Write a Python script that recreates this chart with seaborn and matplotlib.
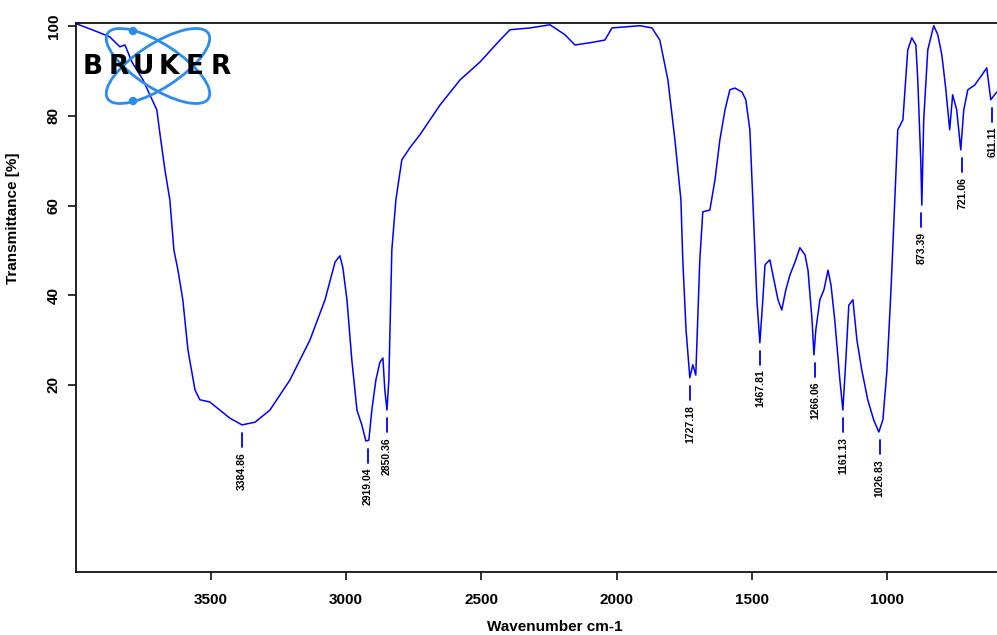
import numpy as np
import pandas as pd
import matplotlib
matplotlib.use("Agg")
import matplotlib.pyplot as plt
from matplotlib.patches import Ellipse, Circle
import seaborn as sns

# ---------------- data ----------------
wavenumber = [3996, 3910, 3874, 3837, 3818, 3792, 3751, 3726, 3700, 3689, 3670, 3652,
              3637, 3622, 3604, 3585, 3559, 3541, 3504, 3467, 3430, 3385, 3337, 3282,
              3208, 3134, 3078, 3041, 3023, 3012, 2997, 2979, 2960, 2942, 2927, 2916,
              2905, 2890, 2875, 2864, 2857, 2849, 2842, 2831, 2816, 2794, 2764, 2727,
              2690, 2653, 2579, 2505, 2431, 2394, 2320, 2246, 2191, 2154, 2098, 2043,
              2017, 1914, 1869, 1840, 1810, 1784, 1773, 1762, 1755, 1743, 1729, 1718,
              1707, 1692, 1681, 1655, 1636, 1618, 1599, 1581, 1562, 1536, 1522, 1507,
              1496, 1481, 1470, 1459, 1451, 1433, 1418, 1403, 1389, 1374, 1359, 1340,
              1322, 1303, 1292, 1277, 1270, 1263, 1248, 1233, 1218, 1207, 1193, 1174,
              1163, 1152, 1141, 1126, 1111, 1093, 1071, 1049, 1030, 1015, 1000, 985,
              971, 960, 941, 923, 908, 893, 886, 875, 871, 864, 849, 827, 812, 797,
              782, 768, 757, 742, 727, 716, 701, 675, 649, 631, 616, 594]
transmittance = [100.5, 98.5, 97.6, 95.4, 95.8, 92.0, 88.0, 84.7, 81.3, 76.2, 67.9, 61.3,
                 50.1, 45.6, 39.0, 27.8, 18.9, 16.7, 16.2, 14.4, 12.6, 11.1, 11.7, 14.4,
                 21.1, 30.0, 39.0, 47.4, 48.8, 46.1, 39.0, 25.6, 14.4, 11.1, 7.5, 7.7,
                 14.4, 21.1, 25.1, 26.0, 18.9, 14.4, 21.1, 50.1, 61.3, 70.2, 72.9, 75.8,
                 79.1, 82.4, 88.0, 92.0, 96.9, 99.2, 99.6, 100.3, 98.1, 95.8, 96.3, 96.9,
                 99.6, 100.1, 99.6, 96.9, 88.0, 74.6, 67.9, 61.3, 47.9, 32.3, 21.6, 24.5,
                 22.2, 47.9, 58.6, 59.0, 65.7, 74.6, 81.3, 85.8, 86.2, 85.3, 83.6, 76.9,
                 61.3, 39.0, 29.4, 39.0, 46.8, 47.9, 43.4, 39.0, 36.7, 41.2, 44.5, 47.4,
                 50.6, 49.0, 45.6, 34.5, 26.7, 32.3, 39.0, 41.2, 45.6, 42.3, 34.5, 21.1,
                 14.4, 25.6, 37.8, 39.0, 30.0, 23.3, 16.7, 12.2, 9.5, 12.2, 23.3, 41.2,
                 61.3, 76.9, 79.1, 94.7, 97.4, 95.8, 88.0, 70.2, 60.1, 79.1, 94.7, 100.1,
                 98.1, 93.6, 85.8, 76.9, 84.7, 81.3, 72.4, 81.3, 85.8, 86.9, 89.1, 90.7,
                 83.6, 85.3]

peak_labels = ["3384.86", "2919.04", "2850.36", "1727.18", "1467.81", "1266.06",
               "1161.13", "1026.83", "873.39", "721.06", "611.11"]
peak_positions = [3385, 2919, 2850, 1727, 1468, 1266, 1161, 1027, 873, 721, 611]
peak_minima = [11.1, 7.5, 14.4, 21.6, 29.4, 26.7, 14.4, 9.5, 60.1, 72.4, 83.6]

x_ticks = [3500, 3000, 2500, 2000, 1500, 1000]
y_ticks = [20, 40, 60, 80, 100]
logo_letters = list("BRUKER")

# ---------------- style ----------------
sns.set_theme(style="white")
plt.rcParams["font.family"] = ["Liberation Sans", "DejaVu Sans"]
plt.rcParams["text.color"] = "black"
plt.rcParams["axes.labelcolor"] = "black"
plt.rcParams["xtick.color"] = "black"
plt.rcParams["ytick.color"] = "black"

W, H = 997, 635
fig = plt.figure(figsize=(W / 100, H / 100), dpi=100)
ax = fig.add_axes([76 / W, 1 - 572 / H, (997 - 76) / W, (572 - 23) / H])

df = pd.DataFrame({"Wavenumber": wavenumber, "Transmittance": transmittance})
sns.lineplot(data=df, x="Wavenumber", y="Transmittance", sort=False,
             color="#0000ff", linewidth=1.1, ax=ax, estimator=None)

ax.set_xlim(3999, 593)
ax.set_ylim(-21.7, 100.7)
ax.set_xticks(x_ticks)
ax.set_xticklabels([str(t) for t in x_ticks])
ax.set_yticks(y_ticks)
ax.set_yticklabels([str(t) for t in y_ticks])

for s in ["left", "bottom", "top"]:
    ax.spines[s].set_color("#111111")
    ax.spines[s].set_linewidth(1.3)
ax.spines["right"].set_visible(False)

ax.tick_params(axis="both", which="major", direction="out", length=6,
               width=1.2, color="#111111", labelsize=11, labelcolor="black")
ax.tick_params(axis="x", bottom=True, pad=9)
ax.tick_params(axis="y", left=True, pad=5, labelrotation=90)
for lab in ax.get_xticklabels() + ax.get_yticklabels():
    lab.set_fontweight("bold")
for lab in ax.get_yticklabels():
    lab.set_va("center")

ax.set_xlabel("Wavenumber cm-1", fontsize=11, fontweight="bold", color="black")
ax.set_ylabel("Transmittance [%]", fontsize=11, fontweight="bold", color="black")
ax.xaxis.set_label_coords(0.52, -0.088)
ax.yaxis.set_label_coords(-0.061, 0.645)
ax.grid(False)

# peak annotations
for lab, xp, ym in zip(peak_labels, peak_positions, peak_minima):
    ax.plot([xp, xp], [ym - 1.8, ym - 4.9], color="#0000ff", linewidth=1.3,
            clip_on=False)
    ax.text(xp, ym - 6.0, lab, rotation=90, ha="center", va="top",
            fontsize=7.5, fontweight="bold", color="black", clip_on=True)

# ---------------- Bruker logo (pixel-space overlay) ----------------
lax = fig.add_axes([0, 0, 1, 1], facecolor="none")
lax.set_xlim(0, W)
lax.set_ylim(H, 0)
lax.axis("off")
logo_blue = "#2b8cf0"
cx, cy = 158, 66
for ang in (33, -33):
    lax.add_patch(Ellipse((cx, cy), 120, 44, angle=ang, fill=False,
                          edgecolor=logo_blue, linewidth=2.0))
lax.add_patch(Circle((133, 31), 3.5, color=logo_blue))
lax.add_patch(Circle((133, 101), 3.5, color=logo_blue))
for i, ch in enumerate(logo_letters):
    lax.text(80 + 12.8 + i * 25.5, 67, ch, ha="center", va="center",
             fontsize=19, fontweight="heavy", color="black",
             family=["DejaVu Sans"])

fig.savefig("out.png", dpi=100)
